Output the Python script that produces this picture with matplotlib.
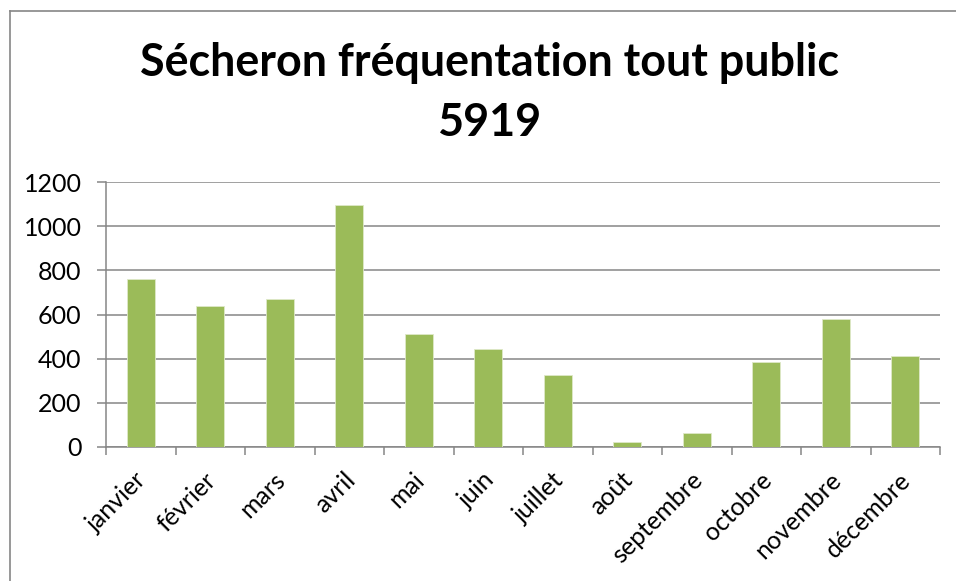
import numpy as np
import matplotlib
matplotlib.use("Agg")
import matplotlib.pyplot as plt
from matplotlib.lines import Line2D
from matplotlib.transforms import ScaledTranslation

# Données
mois = ["janvier", "février", "mars", "avril", "mai", "juin", "juillet",
        "août", "septembre", "octobre", "novembre", "décembre"]
frequentation = [761, 637, 670, 1097, 510, 443, 327, 21, 65, 383, 581, 413]
y_ticks = [0, 200, 400, 600, 800, 1000, 1200]

GREEN = "#9BBB59"
GRID = "#868686"

plt.rcParams["font.family"] = ["Lato", "DejaVu Sans"]

W, H = 956, 581
fig = plt.figure(figsize=(W / 100, H / 100), dpi=100)
fig.patch.set_facecolor("white")

# cadre du graphique (gauche + haut visibles)
fx, fy = 10 / W, 1 - 11 / H
fig.add_artist(Line2D([fx, fx], [0, fy], transform=fig.transFigure, color=GRID, lw=1.2))
fig.add_artist(Line2D([fx, 1], [fy, fy], transform=fig.transFigure, color=GRID, lw=1.2))

# titre
fig.text(0.512, 1 - 63 / H, "Sécheron fréquentation tout public", ha="center", va="center",
         fontsize=32.3, fontweight="bold", color="black")
fig.text(0.512, 1 - 123 / H, "5919", ha="center", va="center",
         fontsize=32.3, fontweight="bold", color="black")

left, right, top, bottom = 106, 940, 182, 447
ax = fig.add_axes([left / W, 1 - bottom / H, (right - left) / W, (bottom - top) / H])

x = np.arange(len(mois))
ax.bar(x, frequentation, width=0.4, color=GREEN, edgecolor="#dfe9c8", linewidth=0.6, zorder=3)

ax.set_xlim(-0.5, len(mois) - 0.5)
ax.set_ylim(0, 1200)
ax.set_yticks(y_ticks)
ax.set_yticklabels([str(v) for v in y_ticks], fontsize=18)
ax.yaxis.grid(True, color=GRID, lw=1.1, zorder=0)
ax.set_axisbelow(True)
ax.tick_params(axis="y", length=6.5, width=1.1, color=GRID, pad=11)

ax.set_xticks(x)
ax.set_xticklabels(mois, fontsize=18, rotation=45, ha="right", va="center",
                   rotation_mode="anchor")
ax.tick_params(axis="x", which="major", length=0, pad=21)
offset = ScaledTranslation(2 / 100, 0, fig.dpi_scale_trans)
for lab in ax.get_xticklabels():
    lab.set_transform(lab.get_transform() + offset)
ax.set_xticks(np.arange(len(mois) + 1) - 0.5, minor=True)
ax.tick_params(axis="x", which="minor", length=6, width=1.1, color=GRID)

for s in ["top", "right"]:
    ax.spines[s].set_visible(False)
for s in ["left", "bottom"]:
    ax.spines[s].set_color(GRID)
    ax.spines[s].set_linewidth(1.1)

fig.savefig("out.png", dpi=100, facecolor="white")
